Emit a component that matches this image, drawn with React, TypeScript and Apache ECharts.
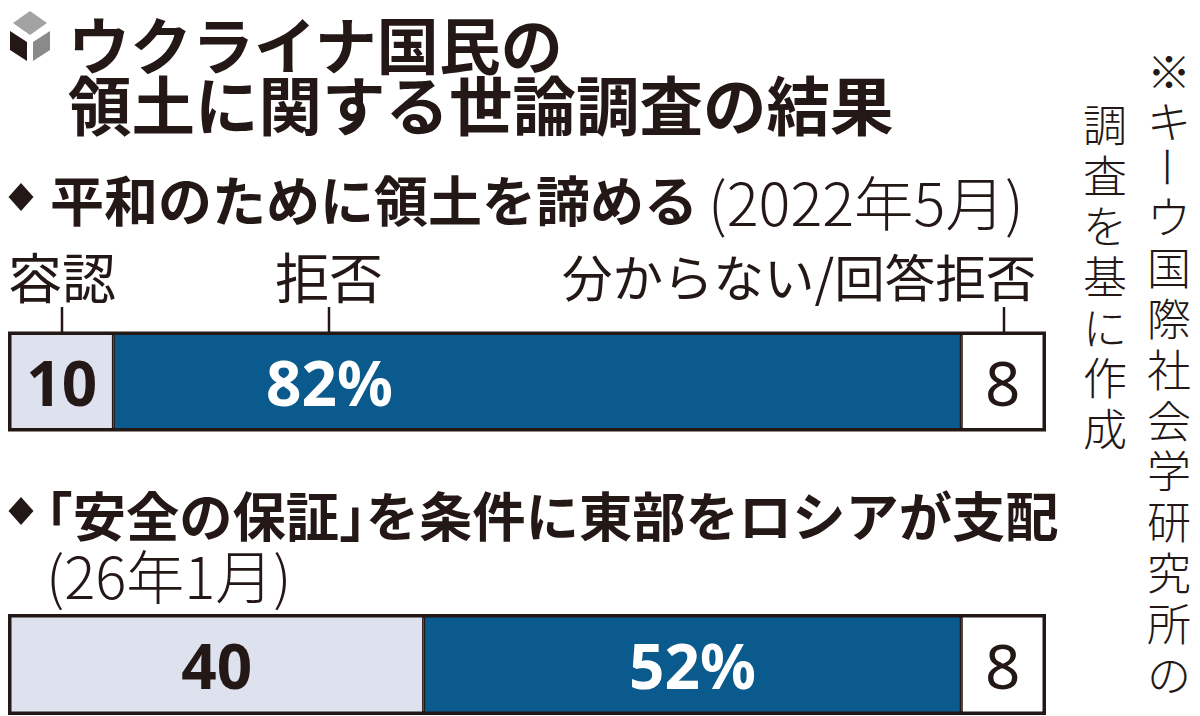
import React, { useEffect, useRef } from "react";
import * as echarts from "echarts";

const titleLines = ["ウクライナ国民の", "領土に関する世論調査の結果"];
const heading1 = "平和のために領土を諦める";
const heading1Date = "(2022年5月)";
const heading2 = "｢安全の保証｣を条件に東部をロシアが支配";
const heading2Date = "(26年1月)";
const categories = ["2022年5月", "26年1月"];
const seriesNames = ["容認", "拒否", "分からない/回答拒否"];
const accept = [10, 40];
const reject = [82, 52];
const unknown = [8, 8];
const noteColumn1 = ["※キ", "ー", "ウ国際社会学研究所の"];
const noteColumn2 = "調査を基に作成";

const INK = "#231815";
const JP = '"Noto Sans CJK JP"';
const NUM = '"Noto Sans"';

const vertical = (s: string) => Array.from(s).join("\n");

function text(x: number, y: number, t: string, size: number, weight: string | number, extra: any = {}) {
  return {
    type: "text",
    x,
    y,
    silent: true,
    style: {
      text: t,
      fontFamily: JP,
      fontSize: size,
      fontWeight: weight,
      fill: INK,
      textAlign: "left",
      textVerticalAlign: "middle",
      ...extra,
    },
  };
}

function diamond(cx: number, cy: number) {
  return {
    type: "polygon",
    shape: { points: [[cx, cy - 14], [cx + 12.5, cy], [cx, cy + 14], [cx - 12.5, cy]] },
    style: { fill: INK },
  };
}

function tick(x: number) {
  return { type: "line", shape: { x1: x, y1: 307, x2: x, y2: 333 }, style: { stroke: INK, lineWidth: 2.5 } };
}

function cube() {
  return [
    { type: "polygon", shape: { points: [[30, 11], [47, 23], [30, 35], [13, 23]] }, style: { fill: "#a3a3a3" } },
    { type: "polygon", shape: { points: [[10, 31], [27, 42], [27, 61], [10, 50]] }, style: { fill: INK } },
    { type: "polygon", shape: { points: [[33, 42], [50, 31], [50, 50], [33, 61]] }, style: { fill: "#8a8a8a" } },
  ];
}

function stacked(name: string, values: number[], color: string, labelColor: string, weight: string, suffix: string, pos: any[]) {
  return values.map((v, i) => ({
    type: "bar",
    name,
    stack: "s" + i,
    xAxisIndex: i,
    yAxisIndex: i,
    barWidth: "100%",
    itemStyle: { color, borderColor: INK, borderWidth: 1.5 },
    label: {
      show: true,
      position: pos[i],
      align: "center",
      verticalAlign: "middle",
      formatter: () => v + suffix,
      color: labelColor,
      fontFamily: NUM,
      fontWeight: weight,
      fontSize: 62,
    },
    data: [v],
  }));
}

export default function App() {
  const ref = useRef<HTMLDivElement>(null);
  useEffect(() => {
    const chart = echarts.init(ref.current!, undefined, { renderer: "svg" });
    const grids = [
      { left: 10, top: 333.5, width: 1034, height: 96, show: true, borderColor: INK, borderWidth: 4 },
      { left: 10, top: 616, width: 1034, height: 97, show: true, borderColor: INK, borderWidth: 4 },
    ];
    chart.setOption({
      animation: false,
      backgroundColor: "#ffffff",
      grid: grids,
      xAxis: grids.map((_, i) => ({ type: "value", gridIndex: i, min: 0, max: 100, show: false })),
      yAxis: grids.map((_, i) => ({ type: "category", gridIndex: i, data: [categories[i]], show: false })),
      series: [
        ...stacked(seriesNames[0], accept, "#dde2ee", INK, "bold", "", ["inside", "inside"]),
        ...stacked(seriesNames[1], reject, "#0a5a8e", "#ffffff", "bold", "%", [[216, "50%"], "inside"]),
        ...stacked(seriesNames[2], unknown, "#ffffff", INK, "normal", "", ["inside", "inside"]),
      ],
      graphic: [
        ...cube(),
        text(68, 43, titleLines[0], 62, "bold"),
        text(68, 102, titleLines[1], 63.5, "bold"),
        diamond(21, 197),
        text(50, 198, heading1, 54, "bold"),
        text(708, 200, heading1Date, 59.5, 300),
        text(8, 275, seriesNames[0], 54, "normal"),
        text(275, 275, seriesNames[1], 54, "normal"),
        text(562, 275, seriesNames[2], 50.5, "normal"),
        tick(62),
        tick(329),
        tick(1004),
        diamond(21, 511),
        text(46, 513, heading2, 53.3, "bold"),
        text(46, 574, heading2Date, 58, 300),
        text(1169, 95, vertical(noteColumn1[0]), 44, 300, { textAlign: "center", lineHeight: 49.7 }),
        {
          ...text(0, 0, noteColumn1[1], 44, 300, { textAlign: "center" }),
          x: 1169,
          y: 167,
          rotation: -Math.PI / 2,
        },
        text(1169, 444, vertical(noteColumn1[2]), 44, 300, { textAlign: "center", lineHeight: 50.9 }),
        text(1105, 275, vertical(noteColumn2), 44, 300, { textAlign: "center", lineHeight: 50.7 }),
      ],
    });
    return () => chart.dispose();
  }, []);
  return <div ref={ref} style={{ position: "absolute", left: 0, top: 0, width: 1200, height: 716 }} />;
}
